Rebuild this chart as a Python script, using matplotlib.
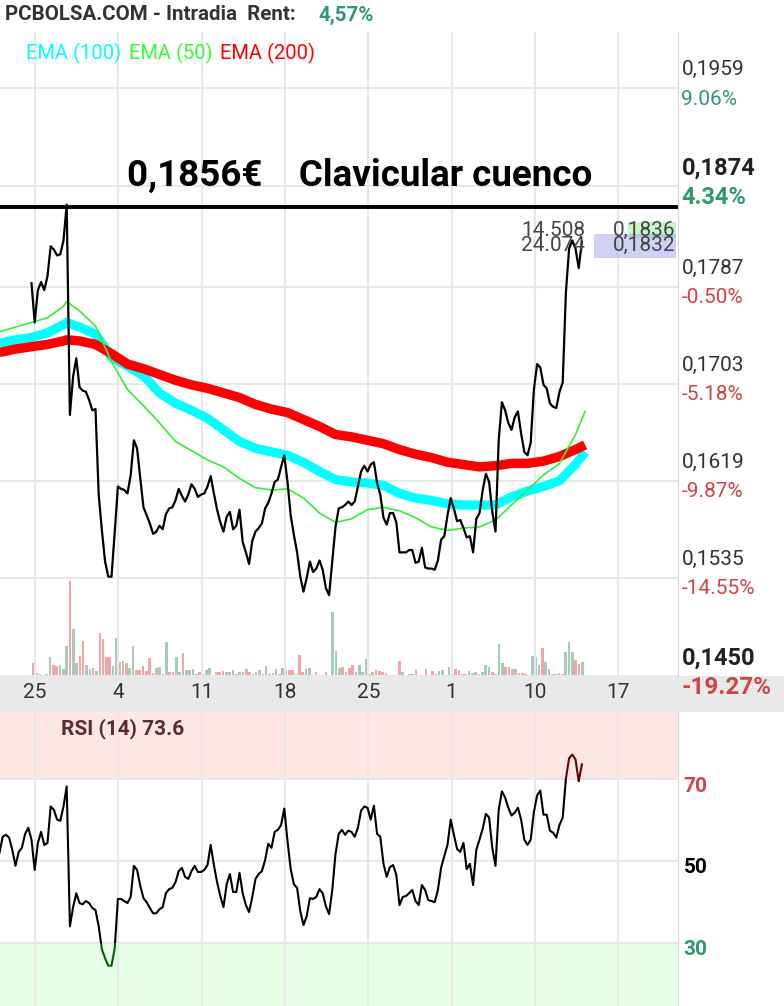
import numpy as np
import matplotlib.pyplot as plt
from matplotlib.patches import Rectangle

plt.rcParams['font.family'] = ['Roboto', 'DejaVu Sans']

# intraday closes, one per bar
price = [0.1790, 0.1756, 0.1784, 0.1791, 0.1784, 0.1796, 0.1822, 0.1819, 0.1814, 0.1815,
         0.1827, 0.1858, 0.1676, 0.1709, 0.1725, 0.1700, 0.1697, 0.1696, 0.1689, 0.1680,
         0.1681, 0.1607, 0.1576, 0.1549, 0.1536, 0.1536, 0.1574, 0.1614, 0.1612, 0.1611,
         0.1608, 0.1624, 0.1654, 0.1647, 0.1621, 0.1596, 0.1589, 0.1582, 0.1573, 0.1575,
         0.1580, 0.1577, 0.1590, 0.1595, 0.1596, 0.1602, 0.1612, 0.1606, 0.1601, 0.1607,
         0.1616, 0.1612, 0.1605, 0.1607, 0.1608, 0.1614, 0.1623, 0.1608, 0.1594, 0.1583,
         0.1575, 0.1588, 0.1592, 0.1577, 0.1580, 0.1594, 0.1566, 0.1557, 0.1547, 0.1567,
         0.1575, 0.1578, 0.1582, 0.1595, 0.1600, 0.1608, 0.1618, 0.1620, 0.1631, 0.1641,
         0.1618, 0.1589, 0.1572, 0.1557, 0.1536, 0.1523, 0.1535, 0.1549, 0.1540, 0.1543,
         0.1550, 0.1542, 0.1526, 0.1520, 0.1550, 0.1579, 0.1595, 0.1596, 0.1598, 0.1601,
         0.1598, 0.1601, 0.1614, 0.1627, 0.1632, 0.1627, 0.1633, 0.1635, 0.1617, 0.1607,
         0.1587, 0.1581, 0.1591, 0.1591, 0.1583, 0.1557, 0.1557, 0.1557, 0.1559, 0.1559,
         0.1548, 0.1549, 0.1561, 0.1544, 0.1543, 0.1543, 0.1542, 0.1550, 0.1568, 0.1571,
         0.1589, 0.1604, 0.1595, 0.1584, 0.1585, 0.1578, 0.1570, 0.1571, 0.1557, 0.1586,
         0.1591, 0.1611, 0.1625, 0.1618, 0.1592, 0.1575, 0.1654, 0.1687, 0.1680, 0.1669,
         0.1663, 0.1674, 0.1679, 0.1660, 0.1644, 0.1641, 0.1652, 0.1698, 0.1720, 0.1717,
         0.1702, 0.1699, 0.1686, 0.1683, 0.1682, 0.1696, 0.1704, 0.1782, 0.1820, 0.1827,
         0.1820, 0.1803, 0.1826]

# EMAs, sampled every few bars
ema_idx = [-10, -5, 0, 5, 10, 11] + list(range(15, 171, 5)) + [173]
ema200 = [0.1730, 0.1733, 0.1735, 0.1737, 0.1740, 0.1741, 0.1740, 0.1737, 0.1729, 0.1720,
          0.1716, 0.1711, 0.1706, 0.1702, 0.1699, 0.1695, 0.1691, 0.1685, 0.1681, 0.1678,
          0.1672, 0.1666, 0.1659, 0.1657, 0.1654, 0.1651, 0.1646, 0.1642, 0.1639, 0.1635,
          0.1633, 0.1631, 0.1632, 0.1634, 0.1634, 0.1636, 0.1640, 0.1646, 0.1650]
ema100 = [0.1738, 0.1741, 0.1743, 0.1747, 0.1754, 0.1756, 0.1752, 0.1746, 0.1726, 0.1718,
          0.1710, 0.1695, 0.1686, 0.1680, 0.1673, 0.1663, 0.1653, 0.1647, 0.1644, 0.1641,
          0.1635, 0.1627, 0.1620, 0.1618, 0.1617, 0.1615, 0.1608, 0.1604, 0.1602, 0.1599,
          0.1598, 0.1598, 0.1598, 0.1605, 0.1610, 0.1614, 0.1619, 0.1633, 0.1644]
ema50 = [0.1748, 0.1752, 0.1756, 0.1760, 0.1770, 0.1774, 0.1766, 0.1753, 0.1722, 0.1698,
         0.1684, 0.1669, 0.1653, 0.1645, 0.1637, 0.1631, 0.1621, 0.1613, 0.1611, 0.1612,
         0.1604, 0.1591, 0.1583, 0.1586, 0.1594, 0.1596, 0.1593, 0.1587, 0.1579, 0.1576,
         0.1578, 0.1579, 0.1585, 0.1598, 0.1611, 0.1624, 0.1634, 0.1659, 0.1679]

# volume (thousands) and bar colour: r = down, g = up
volume = [13, 3, 2, 1, 2, 19, 11, 10, 11, 7,
          30, 96, 48, 13, 20, 35, 11, 7, 8, 5,
          43, 37, 19, 19, 10, 38, 14, 15, 13, 8,
          30, 6, 6, 10, 5, 18, 3, 8, 9, 2,
          34, 4, 4, 19, 4, 23, 6, 6, 7, 2,
          4, 2, 6, 8, 1, 4, 4, 5, 4, 4,
          6, 2, 4, 4, 7, 4, 2, 4, 6, 2,
          10, 2, 3, 7, 2, 8, 6, 6, 6, 2,
          21, 4, 7, 8, 1, 4, 1, 1, 4, 1,
          65, 25, 8, 9, 4, 8, 11, 4, 11, 4,
          17, 2, 4, 6, 5, 4, 3, 1, 1, 1, 15,
          4, 1, 2, 2, 6, 1, 1, 7, 1, 5,
          2, 5, 6, 1, 9, 2, 7, 6, 2, 2,
          5, 3, 4, 2, 4, 11, 9, 4, 2, 32,
          13, 9, 9, 7, 7, 3, 3, 2, 1, 20,
          19, 11, 28, 14, 7, 2, 2, 3, 2, 24,
          34, 24, 16, 12, 14]
vol_dir = ("rggrggrrgg" "grggrrggrg" "rrrrggrgrg" "grrrrrrggr" "grrggrgggr"
           "rgggrrrrgg" "rggrrrgggr" "grggrgrrrg" "rrggrrggrr" "gggrgrrggg"
           "grgrrrrggrr"
           "grggrrrrrr" "rggrgrrrrr" "gggrgggrrg" "grrgrrrrrg" "ggrgrgrggg" "ggrrg")

# RSI(14), starts 10 bars before the price line
rsi = [52.0, 55.9, 56.4, 55.7, 52.7, 48.8, 52.2, 53.2, 56.6, 58.1,
       55.2, 47.8, 54.4, 57.1, 53.9, 54.4, 63.3, 62.5, 60.1, 59.8,
       63.3, 68.2, 34.0, 38.7, 42.1, 39.7, 39.4, 40.2, 39.7, 38.5,
       38.0, 34.0, 28.4, 26.2, 24.4, 24.4, 28.6, 40.7, 40.7, 40.2,
       39.7, 41.2, 48.8, 47.8, 43.9, 40.9, 39.9, 38.5, 37.2, 37.2,
       38.2, 38.7, 42.1, 43.1, 43.4, 44.8, 47.5, 48.3, 46.1, 45.6,
       47.5, 48.8, 47.3, 47.3, 47.8, 49.0, 53.9, 49.0, 44.8, 41.4,
       38.7, 44.3, 46.8, 42.4, 42.4, 47.1, 42.1, 39.2, 37.5, 41.2,
       45.6, 46.8, 47.5, 50.2, 54.2, 53.2, 57.1, 57.6, 58.8, 62.8,
       54.9, 48.0, 44.3, 43.4, 37.7, 34.3, 36.5, 40.9, 40.7, 41.2,
       43.1, 42.1, 38.9, 37.0, 42.9, 51.7, 56.6, 57.6, 56.4, 57.4,
       57.1, 55.9, 58.1, 62.3, 63.3, 63.0, 60.1, 63.5, 56.6, 55.9,
       49.3, 46.1, 48.5, 49.0, 46.6, 39.2, 41.2, 41.4, 42.1, 42.9,
       40.2, 39.2, 44.1, 42.9, 40.4, 40.2, 39.9, 42.9, 48.3, 51.2,
       53.9, 60.1, 56.4, 52.9, 52.2, 54.4, 48.0, 49.3, 44.1, 52.7,
       55.2, 57.9, 61.5, 60.6, 53.2, 48.8, 62.5, 67.0, 65.5, 63.0,
       61.1, 61.8, 63.0, 60.1, 55.2, 53.9, 55.2, 62.0, 66.0, 67.2,
       61.3, 61.3, 57.4, 56.9, 55.7, 58.8, 60.6, 70.1, 75.1, 76.0,
       74.8, 69.5, 73.6]

dates = ['25', '4', '11', '18', '25', '1', '10', '17']
price_ticks = [0.1959, 0.1874, 0.1787, 0.1703, 0.1619, 0.1535, 0.1450]
pct_labels = ['9.06%', '4.34%', '-0.50%', '-5.18%', '-9.87%', '-14.55%', '-19.27%']
level = 0.1856
level_text = '0,1856€    Clavicular cuenco'
hi_quote, last_quote = 0.1836, 0.1832

GRID = '#e8e8e8'
GREEN = '#2e9a6c'
RED = '#d24444'

W, H = 784, 1006


def box(x0, y0, x1, y1):
    return [x0 / W, 1 - y1 / H, (x1 - x0) / W, (y1 - y0) / H]


fig = plt.figure(figsize=(W / 100, H / 100), dpi=100)
XL = (-9.84, 202.03)
week_pos = 1.094 + 26.04 * np.arange(len(dates))

# date strip
band = fig.add_axes(box(0, 676, 784, 712), zorder=0)
band.set_xlim(-9.84, 235.16)
band.set_ylim(0, 1)
band.axis('off')
band.add_patch(Rectangle((0, 0), 1, 1, transform=band.transAxes, color='#e9e9e9'))
for x, d in zip(week_pos, dates):
    band.text(x, 0.55, d, ha='center', va='center', fontsize=15, color='#333333')

# volume
axv = fig.add_axes(box(0, 32, 678, 676), zorder=1)
vol_x = np.linspace(0.56, 172.1, len(volume))
axv.bar(vol_x, volume, width=0.82,
        color=['#f3a6a6' if c == 'r' else '#a8cbb9' for c in vol_dir], linewidth=0)
axv.set_xlim(*XL)
axv.set_ylim(0, max(volume) * 644 / 95)
axv.axis('off')

# price
ax = fig.add_axes(box(0, 32, 678, 676), zorder=2)
ax.set_facecolor('none')
ax.set_xlim(*XL)
ax.set_ylim(0.1450, 0.20074)
ax.set_xticks(week_pos)
ax.set_yticks(price_ticks)
ax.grid(True, color=GRID, lw=1.5)
ax.set_axisbelow(True)
ax.tick_params(left=False, bottom=False, right=False, labelleft=False, labelbottom=False)
for s in ['left', 'top', 'bottom']:
    ax.spines[s].set_visible(False)
ax.spines['right'].set_color('#d4d4d4')

ax.plot(ema_idx, ema100, color='#00ffff', lw=6.6, solid_capstyle='butt')
ax.plot(ema_idx, ema200, color='#ff0000', lw=6.8, solid_capstyle='butt')
ax.plot(ema_idx, ema50, color='#33ee33', lw=1.2)
ax.plot(np.arange(len(price)), price, color='black', lw=1.6)

ax.axhline(level, color='black', lw=2.8)
ax.annotate(level_text, xy=(0.531, level), xycoords=ax.get_yaxis_transform(),
            xytext=(0, 22), textcoords='offset points', ha='center', va='center',
            fontsize=26.5, fontweight='bold', color='black')

for t, pl in zip(price_ticks, pct_labels):
    bold = t in (0.1874, 0.1450)
    fs = 17 if bold else 15
    ax.annotate(f'{t:.4f}'.replace('.', ','), xy=(1, t), xycoords=ax.get_yaxis_transform(),
                xytext=(2.5, 13), textcoords='offset points', va='center',
                fontsize=fs, color='#222222' if bold else '#333333',
                fontweight='bold' if bold else 'normal', annotation_clip=False)
    ax.annotate(pl, xy=(1, t), xycoords=ax.get_yaxis_transform(),
                xytext=(2.5, -8), textcoords='offset points', va='center',
                fontsize=17.5 if t == 0.1450 else fs,
                color=GREEN if not pl.startswith('-') else RED,
                fontweight='bold' if bold else 'normal', annotation_clip=False)

# last quote boxes
pxd = (0.20074 - 0.1450) / 644
yt = ax.get_yaxis_transform()
ax.add_patch(Rectangle((628 / 678, hi_quote - 8 * pxd), 48 / 678, 16 * pxd,
                       transform=yt, color='#c6f5c6', lw=0))
ax.text(0.997, hi_quote, f'{hi_quote:.4f}'.replace('.', ','), transform=yt,
        ha='right', va='center', fontsize=15, color='#444444')
ax.text(585 / 678, hi_quote, '14.508', transform=yt,
        ha='right', va='center', fontsize=15, color='#444444')
low_c = last_quote - 11 * pxd
ax.add_patch(Rectangle((594 / 678, low_c - 12 * pxd), 82 / 678, 24 * pxd,
                       transform=yt, color='#9a9af0', alpha=0.45, lw=0))
ax.text(0.997, low_c, f'{last_quote:.4f}'.replace('.', ','), transform=yt,
        ha='right', va='center', fontsize=15, color='#444444')
ax.text(585 / 678, low_c, '24.074', transform=yt,
        ha='right', va='center', fontsize=15, color='#444444')

# header and legend
fig.text(5 / W, 1 - 15 / H, 'PCBOLSA.COM - Intradia  Rent:', fontsize=14.8,
         fontweight='bold', color='#333333', va='center')
fig.text(318 / W, 1 - 15 / H, '4,57%', fontsize=14.8, fontweight='bold',
         color=GREEN, va='center')
for x, lab, c in [(26, 'EMA (100)', '#00ffff'), (129, 'EMA (50)', '#33ff33'),
                  (220, 'EMA (200)', '#ff0000')]:
    fig.text(x / W, 1 - 53 / H, lab, fontsize=14.5, color=c, va='center')

# RSI
axr = fig.add_axes(box(0, 712, 678, 1006), zorder=1)
axr.set_xlim(*XL)
axr.set_ylim(14.54, 86.4)
axr.axhspan(70, 100, color='#fde6e6', lw=0, zorder=0)
axr.axhspan(0, 30, color='#e6fde6', lw=0, zorder=0)
axr.set_xticks(week_pos)
axr.set_yticks([30, 50, 70])
axr.grid(True, color=GRID, lw=1.5, zorder=0.5)
axr.set_axisbelow(True)
axr.tick_params(left=False, bottom=False, right=False, labelleft=False, labelbottom=False)
for s in ['left', 'top', 'bottom']:
    axr.spines[s].set_visible(False)
axr.spines['right'].set_color('#d4d4d4')

rsi_x = np.arange(-10, -10 + len(rsi))
for lo, hi, col in [(30, 70, 'black'), (70, 100, '#6b0000'), (0, 30, '#006400')]:
    ln, = axr.plot(rsi_x, rsi, color=col, lw=1.5, zorder=3)
    ln.set_clip_path(Rectangle((-20, lo), 300, hi - lo, transform=axr.transData))

for v, c in [(70, RED), (50, 'black'), (30, GREEN)]:
    axr.annotate(str(v), xy=(1, v), xycoords=axr.get_yaxis_transform(),
                 xytext=(4, -5), textcoords='offset points', va='center',
                 fontsize=15, fontweight='bold', color=c, annotation_clip=False)
axr.text(61 / 678, 0.942, f'RSI (14) {rsi[-1]}', transform=axr.transAxes,
         fontsize=15, fontweight='bold', color='#5c2b2b', va='center')

fig.savefig('out.png', dpi=100)
